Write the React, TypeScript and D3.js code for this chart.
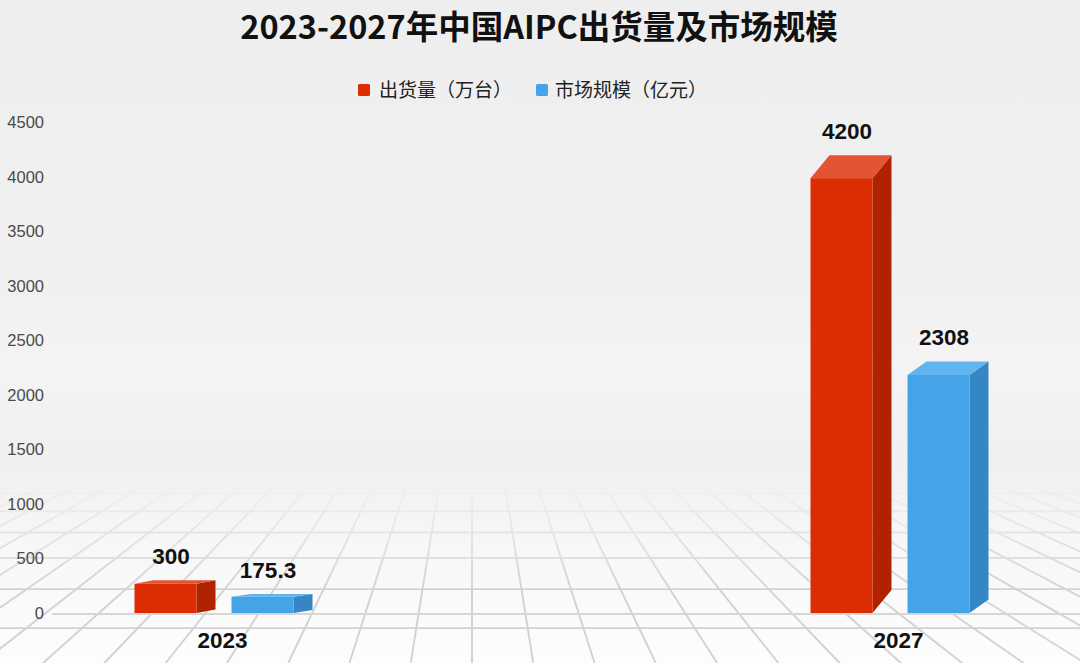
import React from "react";
import * as d3 from "d3";

const years = ["2023", "2027"];
const seriesNames = ["出货量（万台）", "市场规模（亿元）"];
const shipments = [300, 4200];
const marketSize = [175.3, 2308];
const yTicks = [0, 500, 1000, 1500, 2000, 2500, 3000, 3500, 4000, 4500];

const W = 1080;
const H = 663;
const baseY = 613;

const colors = [
  { front: "#db2c02", side: "#b02200", top: "#e25433" },
  { front: "#45a4e8", side: "#3586c5", top: "#62b4ef" },
];

const y = d3.scaleLinear().domain([0, 4500]).range([baseY, 122.5]);
const x = d3.scalePoint<string>().domain(years).range([223.5, 899.5]);
const inner = d3.scaleBand<number>().domain([0, 1]).range([-89, 89]).paddingInner(0.165);

const depthX = 19;
// fake-3d vertical offset of the box, bigger for taller bars (as in the picture)
const depthY = (v: number) => 2 + v * 0.005;

// floor perspective
const vp = { x: 472, y: 280 };
const floorSpread = 0.16;
const floorRows = d3.range(0, 14).map((n) => vp.y + 2757 / (6.92 + n));
const floorCols = d3.range(-24, 25);

const labelFont = "'Liberation Sans', 'Noto Sans CJK SC', sans-serif";
const cjkFont = "'Noto Sans CJK SC', 'Liberation Sans', sans-serif";

const App = () => {
  const values = [shipments, marketSize];

  const bars = years.flatMap((yr, gi) =>
    values.map((arr, si) => {
      const v = arr[gi];
      const x0 = (x(yr) as number) + (inner(si) as number);
      const fw = inner.bandwidth() - depthX;
      const dy = depthY(v);
      const backTop = y(v);
      const frontTop = backTop + dy;
      return { key: yr + si, si, v, x0, fw, dy, backTop, frontTop };
    })
  );

  return (
    <svg
      width={W}
      height={H}
      style={{ position: "fixed", left: 0, top: 0, display: "block" }}
    >
      <defs>
        <linearGradient id="bg" x1="0" y1="0" x2="0" y2="1">
          <stop offset="0" stopColor="#eeeeee" />
          <stop offset="0.45" stopColor="#f1f1f1" />
          <stop offset="0.55" stopColor="#f4f4f4" />
          <stop offset="0.7" stopColor="#f0f0f0" />
          <stop offset="0.82" stopColor="#f7f7f7" />
          <stop offset="1" stopColor="#fdfdfd" />
        </linearGradient>
        <linearGradient id="fade" x1="0" y1="480" x2="0" y2="590" gradientUnits="userSpaceOnUse">
          <stop offset="0" stopColor="#fff" stopOpacity="0" />
          <stop offset="1" stopColor="#fff" stopOpacity="1" />
        </linearGradient>
        <mask id="floorMask">
          <rect x={0} y={0} width={W} height={H} fill="url(#fade)" />
        </mask>
        <filter id="soft" x="-5%" y="-5%" width="110%" height="110%">
          <feGaussianBlur stdDeviation="0.6" />
        </filter>
      </defs>

      <rect x={0} y={0} width={W} height={H} fill="url(#bg)" />

      <g mask="url(#floorMask)" filter="url(#soft)" stroke="#d2d2d2" strokeWidth={1.9} fill="none">
        {floorRows.map((ry, i) => (
          <line key={"r" + i} x1={0} x2={W} y1={ry} y2={ry} />
        ))}
        {floorCols.map((i) => (
          <line
            key={"c" + i}
            x1={vp.x + i * floorSpread * (460 - vp.y)}
            y1={460}
            x2={vp.x + i * floorSpread * (H - vp.y)}
            y2={H}
          />
        ))}
      </g>

      <line x1={52} x2={W} y1={baseY + 1} y2={baseY + 1} stroke="#d6d6d6" strokeWidth={2} />

      {/* title */}
      <text
        x={539}
        y={39}
        textAnchor="middle"
        fontFamily={cjkFont}
        fontWeight={700}
        fontSize={32.5}
        fill="#111"
      >
        2023-2027年中国AIPC出货量及市场规模
      </text>

      {/* legend */}
      <g fontFamily={cjkFont} fontSize={19} fill="#222">
        <rect x={358} y={84} width={12} height={12} rx={1.5} fill={colors[0].front} />
        <text x={379} y={97}>{seriesNames[0]}</text>
        <rect x={536} y={84} width={12} height={12} rx={1.5} fill={colors[1].front} />
        <text x={555} y={97}>{seriesNames[1]}</text>
      </g>

      {/* y axis labels */}
      <g fontFamily={labelFont} fontSize={16.5} fill="#4a4a4a" textAnchor="end">
        {yTicks.map((t) => (
          <text key={t} x={44} y={y(t)} dy="0.35em">
            {t}
          </text>
        ))}
      </g>

      {/* bars */}
      {bars.map((b) => {
        const c = colors[b.si];
        const xr = b.x0 + b.fw;
        return (
          <g key={b.key}>
            <polygon
              points={[
                [xr, baseY],
                [xr + depthX, baseY - b.dy],
                [xr + depthX, b.backTop],
                [xr, b.frontTop],
              ].join(" ")}
              fill={c.side}
            />
            <polygon
              points={[
                [b.x0, b.frontTop],
                [b.x0 + depthX, b.backTop],
                [xr + depthX, b.backTop],
                [xr, b.frontTop],
              ].join(" ")}
              fill={c.top}
            />
            <rect x={b.x0} y={b.frontTop} width={b.fw} height={baseY - b.frontTop} fill={c.front} />
            <text
              x={b.x0 + (b.fw + depthX) / 2 - 4}
              y={b.backTop - 16}
              textAnchor="middle"
              fontFamily={labelFont}
              fontWeight={700}
              fontSize={22.5}
              fill="#111"
            >
              {String(b.v)}
            </text>
          </g>
        );
      })}

      {/* category labels */}
      <g fontFamily={labelFont} fontWeight={700} fontSize={22.5} fill="#111" textAnchor="middle">
        {years.map((yr) => (
          <text key={yr} x={(x(yr) as number) - 1} y={648}>
            {yr}
          </text>
        ))}
      </g>
    </svg>
  );
};

export default App;
